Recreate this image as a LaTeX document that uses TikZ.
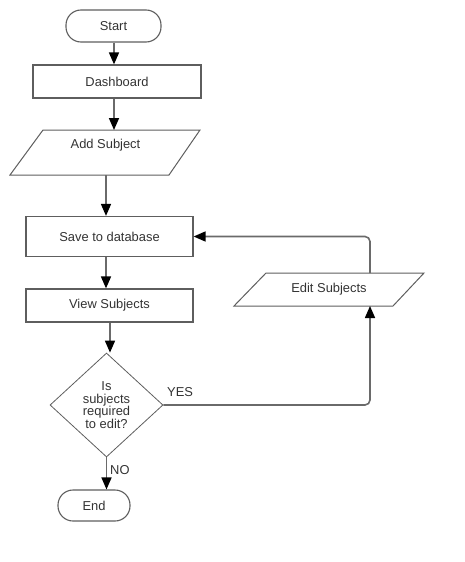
\documentclass[tikz,border=0pt]{standalone}
\usepackage{fontspec}
\setmainfont{Liberation Sans}
\usetikzlibrary{shapes.geometric,arrows.meta,calc}
\definecolor{txt}{HTML}{333333}
\definecolor{edge}{HTML}{6A6A6A}
\definecolor{border}{HTML}{5E5E5E}
\begin{document}
\begin{tikzpicture}[x=1pt,y=-1pt,
  every node/.style={font=\fontsize{12.9}{12.7}\selectfont, text=txt, inner sep=0pt},
  terminal/.style={draw=border, line width=1.1pt, rounded corners=15pt, minimum height=32pt},
  process/.style={draw=border, line width=1.2pt, minimum width=167pt},
  decision/.style={diamond, draw=border, line width=0.8pt, minimum width=113pt, minimum height=104pt, align=center},
  io/.style={draw=border, line width=1pt},
  flow/.style={draw=edge, line width=1.6pt, -{Triangle[width=10pt,length=12pt,fill=black,color=black]}},
  plain/.style={draw=edge, line width=1.6pt}
]
\useasboundingbox (0,0) rectangle (465,562);

% nodes
\node[terminal, minimum width=95pt] (start) at (113.5,26) {Start};
\node[process, minimum width=168pt, minimum height=33pt] (dash) at (117,81.5) {Dashboard};
\node (add) at (105.5,145) {Add Subject};
\node[process, minimum height=40pt] (save) at (109.5,236.5) {Save to database};
\node[process, minimum height=33pt] (view) at (109.5,305.5) {View Subjects};
\node[decision] (dec) at (106.5,405) {Is\\subjects\\required\\to edit?};
\node (edit) at (329,289.5) {Edit Subjects};
\node[terminal, minimum width=72pt, minimum height=31pt] (end) at (94,505.5) {End};
\node[anchor=west] (yes) at (167,392) {YES};
\node[anchor=west] (no) at (110,470) {NO};

% parallelogram outlines for the input/output steps
\coordinate (addtop) at ($(add)+(0,-15)$);
\coordinate (addbot) at ($(add)+(0,30)$);
\draw[io] ($(add)+(-62.5,-15)$) -- ($(add)+(94.5,-15)$) -- ($(add)+(63.5,30)$) -- ($(add)+(-95.5,30)$) -- cycle;
\coordinate (edittop) at ($(edit)+(41,-16.5)$);
\coordinate (editbot) at ($(edit)+(41,16.5)$);
\draw[io] ($(edit)+(-63,-16.5)$) -- ($(edit)+(95,-16.5)$) -- ($(edit)+(64,16.5)$) -- ($(edit)+(-95,16.5)$) -- cycle;

% connectors
\draw[flow] (start.south -| 114,0) -- (114,0 |- dash.north);
\draw[flow] (dash.south -| 114,0) -- (114,0 |- addtop);
\draw[flow] (addbot -| 106,0) -- (106,0 |- save.north);
\draw[flow] (save.south -| 106,0) -- (106,0 |- view.north);
\draw[flow] (view.south -| 110,0) -- (110,0 |- dec.north);
\draw[flow] (dec.south) -- (dec.south |- end.north);
\draw[flow, rounded corners=5pt] (dec.east) -| (editbot);
\draw[flow, rounded corners=5pt] (edittop) |- (save.east);
\end{tikzpicture}
\end{document}
